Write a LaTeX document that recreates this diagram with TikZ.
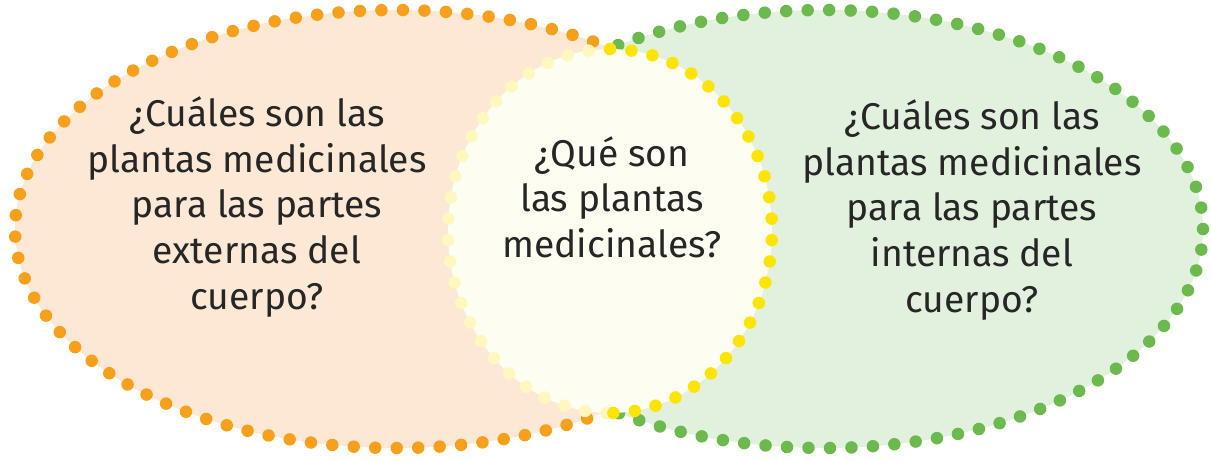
\documentclass[tikz,border=0pt]{standalone}
\usepackage{fontspec}
\setmainfont{Fira Sans}
\definecolor{peach}{RGB}{252,232,212}
\definecolor{mint}{RGB}{226,240,222}
\definecolor{cream}{RGB}{254,253,242}
\definecolor{orangedot}{RGB}{246,160,28}
\definecolor{greendot}{RGB}{108,186,78}
\definecolor{yellowdot}{RGB}{255,228,0}
\definecolor{paledot}{RGB}{255,247,190}
\definecolor{ink}{RGB}{38,38,38}
\begin{document}
\begin{tikzpicture}[x=0.1mm,y=-0.1mm,
 dots/.style={line width=1.25mm,line cap=round,dash pattern=on 0pt off 2.15mm},
 question/.style={align=center,font=\fontsize{10.6}{13}\selectfont,text=ink,inner sep=0pt}]
\useasboundingbox (0,0) rectangle (1211,460);
% outer sets, each cut at the middle
\begin{scope}
\clip (0,0) rectangle (610,460);
\fill[peach] (396,229) ellipse [x radius=38.1mm,y radius=21.9mm];
\draw[dots,orangedot] (396,229) ellipse [x radius=38.1mm,y radius=21.9mm];
\end{scope}
\begin{scope}
\clip (610,0) rectangle (1211,460);
\fill[mint] (824,229) ellipse [x radius=37.9mm,y radius=21.9mm];
\draw[dots,greendot] (824,229) ellipse [x radius=37.9mm,y radius=21.9mm];
\end{scope}
% common part
\fill[cream] (610,231) ellipse [x radius=16.2mm,y radius=18.2mm];
\draw[dots,paledot] (610,49) arc [start angle=90,end angle=270,x radius=16.2mm,y radius=18.2mm];
\draw[dots,yellowdot] (610,49) arc [start angle=90,end angle=-90,x radius=16.2mm,y radius=18.2mm];
\node[question] (outer) at (257,207) {¿Cuáles son las\\plantas medicinales\\para las partes\\externas del\\cuerpo?};
\node[question] (both) at (612,197) {¿Qué son\\las plantas\\medicinales?};
\node[question] (inner) at (972,210) {¿Cuáles son las\\plantas medicinales\\para las partes\\internas del\\cuerpo?};
\end{tikzpicture}
\end{document}
